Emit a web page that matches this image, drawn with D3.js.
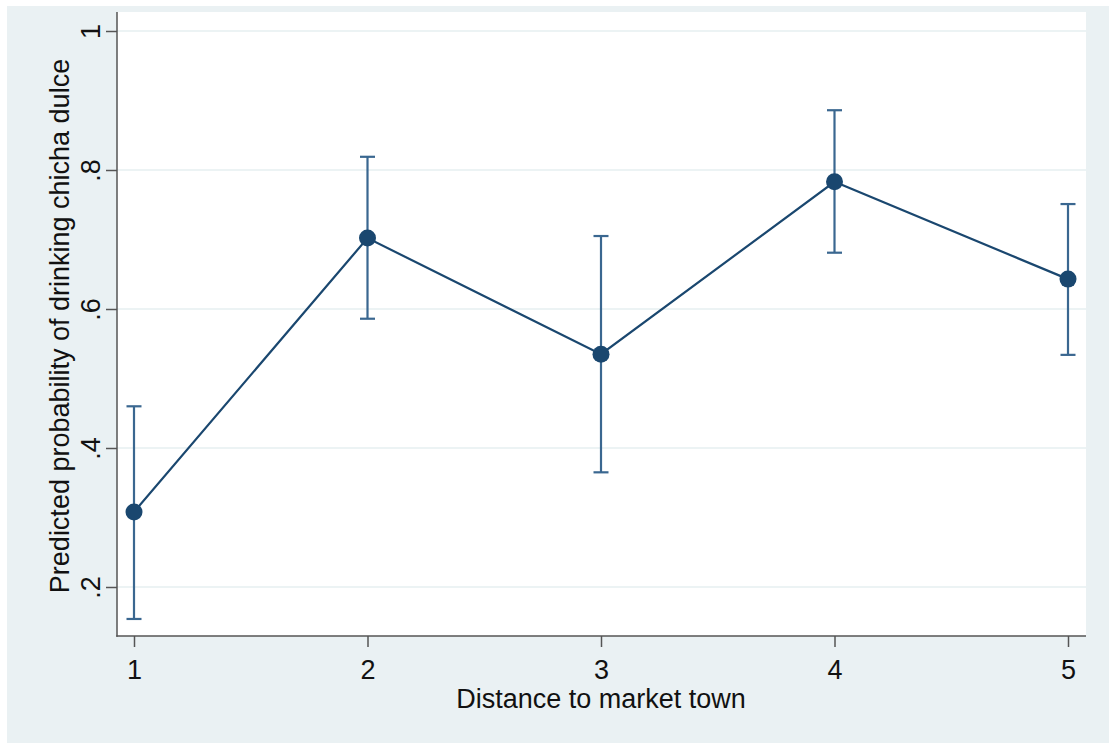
<!DOCTYPE html>
<html>
<head>
<meta charset="utf-8">
<script src="https://cdn.jsdelivr.net/npm/d3@7"></script>
<style>
  html, body { margin: 0; padding: 0; background: #ffffff; }
  svg { display: block; }
  text { font-family: "Liberation Sans", Arial, sans-serif; fill: #111; }
</style>
</head>
<body>
<svg id="chart" width="1109" height="743"></svg>
<script>
// Predicted margins by distance category, with 95% confidence limits
const distance = [1, 2, 3, 4, 5];
const predicted = [0.308, 0.702, 0.535, 0.783, 0.643];
const lowerCI = [0.154, 0.586, 0.365, 0.681, 0.534];
const upperCI = [0.460, 0.819, 0.705, 0.886, 0.751];
const yTicks = [0.2, 0.4, 0.6, 0.8, 1];
const yTickLabels = [".2", ".4", ".6", ".8", "1"];
const xTickLabels = ["1", "2", "3", "4", "5"];

const svg = d3.select("#chart");
const W = 1109, H = 743;
const fontSize = 27;

// graph region background
svg.append("rect").attr("x", 7).attr("y", 6).attr("width", W - 7).attr("height", H - 6)
  .attr("fill", "#eaf1f3");

const plot = { left: 117, right: 1086, top: 12, bottom: 636 };

svg.append("rect")
  .attr("x", plot.left).attr("y", plot.top)
  .attr("width", plot.right - plot.left).attr("height", plot.bottom - plot.top)
  .attr("fill", "#ffffff");

const x = d3.scaleLinear().domain([1, 5]).range([134, 1068]);
const y = d3.scaleLinear().domain([0.2, 1]).range([587, 31]);

// horizontal gridlines
svg.append("g").selectAll("line").data(yTicks).join("line")
  .attr("x1", plot.left).attr("x2", plot.right)
  .attr("y1", d => y(d)).attr("y2", d => y(d))
  .attr("stroke", "#e6eff1").attr("stroke-width", 1.6);

// y axis
const yAxis = svg.append("g").attr("transform", `translate(${plot.left},0)`)
  .call(d3.axisLeft(y).tickValues(yTicks).tickSize(11)
    .tickFormat((d, i) => yTickLabels[i]));
yAxis.select(".domain").remove();
yAxis.selectAll(".tick line").attr("stroke", "#555").attr("stroke-width", 1.5);
yAxis.selectAll(".tick text")
  .attr("font-size", fontSize).attr("fill", "#111")
  .attr("transform", "translate(-17,0) rotate(-90)")
  .attr("x", 0).attr("y", 0).attr("dy", "0")
  .attr("text-anchor", "middle");
svg.append("line").attr("x1", plot.left).attr("x2", plot.left)
  .attr("y1", plot.top).attr("y2", plot.bottom + 0.75)
  .attr("stroke", "#555").attr("stroke-width", 1.5);

// x axis
const xAxis = svg.append("g").attr("transform", `translate(0,${plot.bottom})`)
  .call(d3.axisBottom(x).tickValues(distance).tickSize(11)
    .tickFormat((d, i) => xTickLabels[i]));
xAxis.select(".domain").remove();
xAxis.selectAll(".tick line").attr("stroke", "#555").attr("stroke-width", 1.5);
xAxis.selectAll(".tick text")
  .attr("font-size", fontSize).attr("fill", "#111")
  .attr("y", 43).attr("dy", "0");
svg.append("line").attr("x1", plot.left - 0.75).attr("x2", plot.right)
  .attr("y1", plot.bottom).attr("y2", plot.bottom)
  .attr("stroke", "#555").attr("stroke-width", 1.5);

// axis titles
svg.append("text")
  .attr("x", 601).attr("y", 708)
  .attr("text-anchor", "middle").attr("font-size", fontSize)
  .text("Distance to market town");
svg.append("text")
  .attr("transform", `translate(69,326) rotate(-90)`)
  .attr("text-anchor", "middle").attr("font-size", fontSize)
  .text("Predicted probability of drinking chicha dulce");

const rows = distance.map((d, i) => ({ d, p: predicted[i], lo: lowerCI[i], hi: upperCI[i] }));
const ciColor = "#3a6790";
const mainColor = "#1a476f";
const cap = 7.5;

// confidence intervals
const ci = svg.append("g").attr("stroke", ciColor).attr("stroke-width", 2.2);
ci.selectAll("line.v").data(rows).join("line").attr("class", "v")
  .attr("x1", r => x(r.d)).attr("x2", r => x(r.d))
  .attr("y1", r => y(r.lo)).attr("y2", r => y(r.hi));
ci.selectAll("line.hi").data(rows).join("line").attr("class", "hi")
  .attr("x1", r => x(r.d) - cap).attr("x2", r => x(r.d) + cap)
  .attr("y1", r => y(r.hi)).attr("y2", r => y(r.hi));
ci.selectAll("line.lo").data(rows).join("line").attr("class", "lo")
  .attr("x1", r => x(r.d) - cap).attr("x2", r => x(r.d) + cap)
  .attr("y1", r => y(r.lo)).attr("y2", r => y(r.lo));

// connecting line
svg.append("path").datum(rows)
  .attr("d", d3.line().x(r => x(r.d)).y(r => y(r.p)))
  .attr("fill", "none").attr("stroke", mainColor).attr("stroke-width", 2.2);

// markers
svg.append("g").selectAll("circle").data(rows).join("circle")
  .attr("cx", r => x(r.d)).attr("cy", r => y(r.p)).attr("r", 8.5)
  .attr("fill", mainColor);
</script>
</body>
</html>
